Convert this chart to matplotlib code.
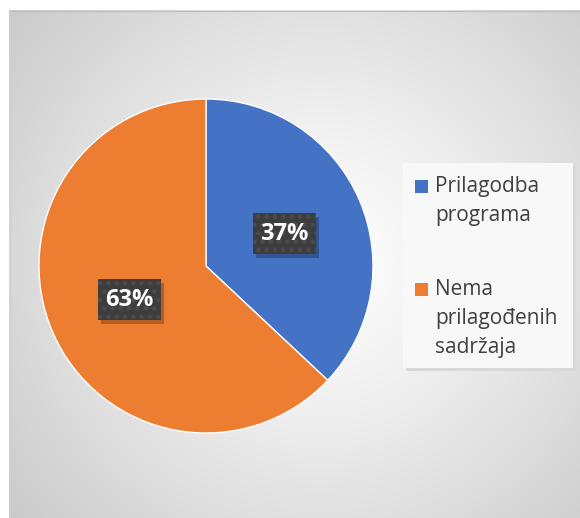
import numpy as np
import matplotlib
matplotlib.use("Agg")
import matplotlib.pyplot as plt
from matplotlib.patches import Rectangle

categories = ["Prilagodba\nprograma", "Nema\nprilagođenih\nsadržaja"]
values = [37, 63]
colors = ["#4472C4", "#ED7D31"]
labels = ["37%", "63%"]

W, H = 580, 518
fig = plt.figure(figsize=(W / 100, H / 100), dpi=100)
fig.patch.set_facecolor("white")

# background panel (pixel coordinates)
bg = fig.add_axes([0, 0, 1, 1])
bg.set_xlim(0, W)
bg.set_ylim(H, 0)
bg.axis("off")
x0, y0 = 9, 10
yy, xx = np.mgrid[y0:H, x0:W]
cx, cy = 320, 262
d = np.sqrt((xx - cx) ** 2 + (yy - cy) ** 2)
d = d / 420.0
g = 1.0 - 0.22 * np.clip(d, 0, 1) ** 1.2
img = np.dstack([g, g, g])
bg.imshow(img, extent=[x0, W, H, y0], origin="upper", zorder=0, aspect="auto")
bg.plot([x0, W], [y0 + 0.5, y0 + 0.5], color="#bdbdbd", lw=0.8, zorder=1)
bg.plot([x0 + 0.5, x0 + 0.5], [y0, H], color="#cfcfcf", lw=0.8, zorder=1)

# legend box with shadow
lx0, ly0, lx1, ly1 = 403, 163, 573, 368
bg.add_patch(Rectangle((lx0 + 3, ly0 + 3), lx1 - lx0, ly1 - ly0, facecolor="#d8d8d8",
                       edgecolor="none", zorder=2))
bg.add_patch(Rectangle((lx0, ly0), lx1 - lx0, ly1 - ly0, facecolor="#f8f8f8",
                       edgecolor="none", zorder=3))

legend_y = [186, 289]
for cat, col, ly in zip(categories, colors, legend_y):
    bg.add_patch(Rectangle((415, ly - 6), 13, 13, facecolor=col, edgecolor="none", zorder=4))
    bg.text(435, ly - 10, cat, ha="left", va="top", fontsize=15, color="#404040",
            family="Open Sans", linespacing=1.5, zorder=5)

# pie
pcx, pcy, r = 206, 266, 167
pax = fig.add_axes([(pcx - r) / W, (H - pcy - r) / H, 2 * r / W, 2 * r / H])
pax.pie(values, colors=colors, startangle=90, counterclock=False,
        wedgeprops=dict(edgecolor="white", linewidth=1.0))
pax.set_xlim(-1, 1)
pax.set_ylim(-1, 1)
pax.set_aspect("equal")
pax.axis("off")

plt.rcParams["hatch.linewidth"] = 2.0
label_pos = [(284, 233), (129, 299)]
bw, bh = 63, 41
for lab, (px, py) in zip(labels, label_pos):
    ux = (px - pcx) / r
    uy = (pcy - py) / r
    w, h = bw / r, bh / r
    pax.add_patch(Rectangle((ux - w / 2 + 0.02, uy - h / 2 - 0.025), w, h,
                            facecolor="black", alpha=0.25, edgecolor="none", zorder=5,
                            clip_on=False))
    pax.add_patch(Rectangle((ux - w / 2, uy - h / 2), w, h, facecolor="#3d3d3d",
                            edgecolor="#4b4b4b", linewidth=0, hatch="..", zorder=6,
                            clip_on=False))
    pax.text(ux, uy - 0.005, lab, ha="center", va="center", fontsize=17, fontweight="bold",
             color="white", family="Open Sans", zorder=7)

fig.savefig("out.png", dpi=100)
